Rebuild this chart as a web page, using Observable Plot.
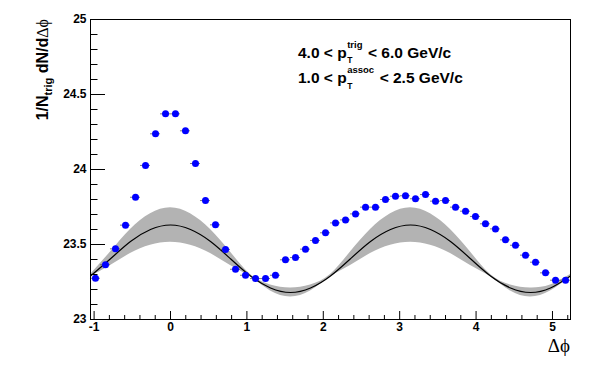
<!DOCTYPE html>
<html><head><meta charset="utf-8">
<script src="https://cdn.jsdelivr.net/npm/d3@7"></script>
<script src="https://cdn.jsdelivr.net/npm/@observablehq/plot@0.6"></script>
<style>body{margin:0;background:#fff} svg{display:block}</style>
</head><body><div id="chart"></div>
<script>
// Data points: bin centres (Δφ) and per-trigger yields
const deltaPhi = [-0.982,-0.851,-0.720,-0.589,-0.458,-0.327,-0.196,-0.065,0.065,0.196,0.327,0.458,
  0.589,0.720,0.851,0.982,1.113,1.244,1.374,1.505,1.636,1.767,1.898,2.029,
  2.160,2.291,2.422,2.553,2.683,2.814,2.945,3.076,3.207,3.338,3.469,3.600,
  3.731,3.862,3.992,4.123,4.254,4.385,4.516,4.647,4.778,4.909,5.040,5.171];
const yieldVals = [23.275,23.365,23.471,23.629,23.815,24.027,24.238,24.371,24.371,24.258,24.040,23.793,
  23.631,23.467,23.335,23.295,23.273,23.273,23.295,23.398,23.413,23.469,23.527,23.578,
  23.644,23.664,23.704,23.749,23.749,23.800,23.822,23.825,23.805,23.833,23.789,23.793,
  23.749,23.722,23.687,23.638,23.604,23.531,23.495,23.429,23.382,23.311,23.262,23.262];
const binHalfWidth = 0.0654;

// Flow background curve and its band, read at knots
const fitPhi = [-1.047,-0.785,-0.524,-0.262,0,0.262,0.524,0.785,1.047,1.309,1.571,1.833,2.094,
  2.356,2.618,2.880,3.142,3.403,3.665,3.927,4.189,4.451,4.712,4.974,5.236];
const fitCenter = [23.29,23.405,23.52,23.60,23.63,23.60,23.52,23.405,23.29,23.21,23.18,23.21,23.29,
  23.405,23.52,23.60,23.63,23.60,23.52,23.405,23.29,23.21,23.18,23.21,23.29];
const fitUpper = [23.30,23.45,23.60,23.705,23.745,23.705,23.60,23.45,23.30,23.23,23.21,23.23,23.30,
  23.45,23.60,23.705,23.745,23.705,23.60,23.45,23.30,23.23,23.21,23.23,23.30];
const fitLower = [23.285,23.36,23.44,23.495,23.515,23.495,23.44,23.36,23.285,23.19,23.15,23.19,23.285,
  23.36,23.44,23.495,23.515,23.495,23.44,23.36,23.285,23.19,23.15,23.19,23.285];

// Ticks
const yMajorTicks = [23, 23.5, 24, 24.5, 25];
const yMinorTicks = [23.1,23.2,23.3,23.4,23.6,23.7,23.8,23.9,24.1,24.2,24.3,24.4,24.6,24.7,24.8,24.9];
const xMajorTicks = [-1, 0, 1, 2, 3, 4, 5];
const xMinorTicks = [-0.8,-0.6,-0.4,-0.2,0.2,0.4,0.6,0.8,1.2,1.4,1.6,1.8,2.2,2.4,2.6,2.8,
  3.2,3.4,3.6,3.8,4.2,4.4,4.6,4.8,5.2];

const points = deltaPhi.map((x, i) => ({x, y: yieldVals[i]}));
const fit = fitPhi.map((x, i) => ({x, c: fitCenter[i], hi: fitUpper[i], lo: fitLower[i]}));

const W = 600, H = 375, mL = 90, mR = 30, mT = 19, mB = 56;
const pw = W - mL - mR, ph = H - mT - mB;

const svgEl = Plot.plot({
  width: W, height: H,
  marginLeft: mL, marginRight: mR, marginTop: mT, marginBottom: mB,
  x: {domain: [-Math.PI / 3, 5 * Math.PI / 3]},
  y: {domain: [23, 25]},
  style: {fontFamily: "Liberation Sans, Arial, sans-serif", background: "white", color: "black"},
  marks: [
    Plot.areaY(fit, {x: "x", y1: "lo", y2: "hi", fill: "#b3b3b3", curve: "natural"}),
    Plot.line(fit, {x: "x", y: "c", stroke: "black", strokeWidth: 1.2, curve: "natural"}),
    Plot.ruleY(points, {y: "y", x1: d => d.x - binHalfWidth, x2: d => d.x + binHalfWidth, stroke: "#444", strokeWidth: 0.7}),
    Plot.dot(points, {x: "x", y: "y", r: 3.5, fill: "#0000ff", stroke: "none"}),
    Plot.frame({stroke: "black"}),
    Plot.tickY(yMajorTicks, {y: d => d, insetRight: pw - 15, stroke: "black"}),
    Plot.tickY(yMinorTicks, {y: d => d, insetRight: pw - 7.5, stroke: "black"}),
    Plot.tickX(xMajorTicks, {x: d => d, insetTop: ph - 8, stroke: "black"}),
    Plot.tickX(xMinorTicks, {x: d => d, insetTop: ph - 4, stroke: "black"}),
    Plot.axisY({ticks: yMajorTicks, tickSize: 0, tickPadding: 4, tickFormat: d => String(d),
      fontWeight: "bold", fontSize: 12, label: null}),
    Plot.axisX({ticks: xMajorTicks, tickSize: 0, tickPadding: 3, tickFormat: d => String(d),
      fontWeight: "bold", fontSize: 12, label: null})
  ]
});
document.getElementById("chart").appendChild(svgEl);
const s = d3.select(svgEl);

// Y axis title
const yt = s.append("text")
  .attr("transform", `translate(47.5,${mT}) rotate(-90)`)
  .attr("text-anchor", "end")
  .attr("font-family", "Liberation Sans, Arial, sans-serif")
  .attr("font-weight", "bold").attr("font-size", 16).attr("fill", "black");
yt.append("tspan").text("1/N");
yt.append("tspan").attr("font-size", 11).attr("dy", 4).text("trig");
yt.append("tspan").attr("dy", -4).text(" dN/d");
yt.append("tspan").attr("font-family", "Liberation Serif, DejaVu Serif, serif").attr("font-weight", "normal").text("Δϕ");

// X axis title
s.append("text").attr("x", W - mR).attr("y", 352).attr("text-anchor", "end")
  .attr("font-family", "Liberation Serif, DejaVu Serif, serif").attr("font-size", 19).attr("fill", "black").text("Δϕ");

// Kinematic labels
function pLabel(x, y, pre, sup, post) {
  const g = s.append("g").attr("font-family", "Liberation Sans, Arial, sans-serif")
    .attr("font-weight", "bold").attr("fill", "black").attr("text-anchor", "start");
  const t1 = g.append("text").attr("x", x).attr("y", y).attr("font-size", 15.5).text(pre);
  const w1 = t1.node().getComputedTextLength();
  const sb = g.append("text").attr("x", x + w1 + 0.5).attr("y", y + 5.5).attr("font-size", 8.5).text("T");
  const sp = g.append("text").attr("x", x + w1 + 0.5).attr("y", y - 10).attr("font-size", 9.5).text(sup);
  const w2 = Math.max(sb.node().getComputedTextLength(), sp.node().getComputedTextLength());
  g.append("text").attr("x", x + w1 + w2 + 6).attr("y", y).attr("font-size", 15.5).text("< " + post);
}
pLabel(298, 57.5, "4.0 < p", "trig", "6.0 GeV/c");
pLabel(298, 83, "1.0 < p", "assoc", "2.5 GeV/c");
</script>
</body></html>
